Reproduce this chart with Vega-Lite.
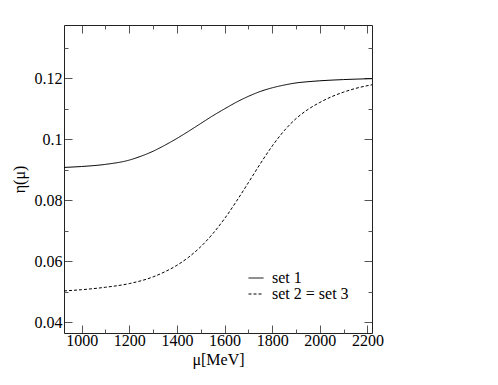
{
  "$schema": "https://vega.github.io/schema/vega-lite/v6.json",
  "width": 308,
  "height": 308,
  "autosize": "none",
  "padding": {"left": 64, "top": 25, "right": 126, "bottom": 52},
  "background": "white",
  "config": {
    "font": "Liberation Serif",
    "view": {"stroke": null},
    "axis": {"labelFont": "Liberation Serif", "titleFont": "Liberation Serif", "labelFontSize": 16, "titleFontSize": 16, "titleFontWeight": "normal", "labelColor": "black", "titleColor": "black", "domainColor": "#222", "tickColor": "#555", "grid": false},
    "legend": {"labelFont": "Liberation Serif", "labelFontSize": 16, "labelColor": "black"}
  },
  "data": {"values": [
    {"mu": 926, "eta": 0.0908, "set": "set 1"},
    {"mu": 1000, "eta": 0.0911, "set": "set 1"},
    {"mu": 1100, "eta": 0.0918, "set": "set 1"},
    {"mu": 1200, "eta": 0.0932, "set": "set 1"},
    {"mu": 1250, "eta": 0.0945, "set": "set 1"},
    {"mu": 1300, "eta": 0.0961, "set": "set 1"},
    {"mu": 1350, "eta": 0.0981, "set": "set 1"},
    {"mu": 1400, "eta": 0.1003, "set": "set 1"},
    {"mu": 1450, "eta": 0.1027, "set": "set 1"},
    {"mu": 1500, "eta": 0.1052, "set": "set 1"},
    {"mu": 1550, "eta": 0.1077, "set": "set 1"},
    {"mu": 1600, "eta": 0.1100, "set": "set 1"},
    {"mu": 1650, "eta": 0.1122, "set": "set 1"},
    {"mu": 1700, "eta": 0.1141, "set": "set 1"},
    {"mu": 1750, "eta": 0.1157, "set": "set 1"},
    {"mu": 1800, "eta": 0.1169, "set": "set 1"},
    {"mu": 1850, "eta": 0.1178, "set": "set 1"},
    {"mu": 1900, "eta": 0.1185, "set": "set 1"},
    {"mu": 1950, "eta": 0.1189, "set": "set 1"},
    {"mu": 2000, "eta": 0.1192, "set": "set 1"},
    {"mu": 2100, "eta": 0.1196, "set": "set 1"},
    {"mu": 2219, "eta": 0.1199, "set": "set 1"},
    {"mu": 926, "eta": 0.0503, "set": "set 2 = set 3"},
    {"mu": 1000, "eta": 0.0507, "set": "set 2 = set 3"},
    {"mu": 1100, "eta": 0.0515, "set": "set 2 = set 3"},
    {"mu": 1200, "eta": 0.0527, "set": "set 2 = set 3"},
    {"mu": 1300, "eta": 0.0549, "set": "set 2 = set 3"},
    {"mu": 1350, "eta": 0.0566, "set": "set 2 = set 3"},
    {"mu": 1400, "eta": 0.0587, "set": "set 2 = set 3"},
    {"mu": 1450, "eta": 0.0614, "set": "set 2 = set 3"},
    {"mu": 1500, "eta": 0.0648, "set": "set 2 = set 3"},
    {"mu": 1550, "eta": 0.0690, "set": "set 2 = set 3"},
    {"mu": 1600, "eta": 0.0740, "set": "set 2 = set 3"},
    {"mu": 1650, "eta": 0.0797, "set": "set 2 = set 3"},
    {"mu": 1700, "eta": 0.0858, "set": "set 2 = set 3"},
    {"mu": 1750, "eta": 0.0920, "set": "set 2 = set 3"},
    {"mu": 1800, "eta": 0.0978, "set": "set 2 = set 3"},
    {"mu": 1850, "eta": 0.1028, "set": "set 2 = set 3"},
    {"mu": 1900, "eta": 0.1068, "set": "set 2 = set 3"},
    {"mu": 1950, "eta": 0.1098, "set": "set 2 = set 3"},
    {"mu": 2000, "eta": 0.1121, "set": "set 2 = set 3"},
    {"mu": 2050, "eta": 0.1140, "set": "set 2 = set 3"},
    {"mu": 2100, "eta": 0.1155, "set": "set 2 = set 3"},
    {"mu": 2150, "eta": 0.1167, "set": "set 2 = set 3"},
    {"mu": 2219, "eta": 0.1179, "set": "set 2 = set 3"}
  ]},
  "resolve": {"axis": {"x": "independent", "y": "independent"}},
  "layer": [
    {
      "mark": {"type": "line", "color": "black", "strokeWidth": 1, "interpolate": "monotone", "clip": true},
      "encoding": {
        "x": {"field": "mu", "type": "quantitative", "scale": {"domain": [926, 2219], "nice": false, "zero": false},
              "axis": {"orient": "bottom", "title": "μ[MeV]", "format": "d", "values": [1000, 1200, 1400, 1600, 1800, 2000, 2200], "tickSize": -8, "labelPadding": 7, "titlePadding": 3, "labelFlush": false}},
        "y": {"field": "eta", "type": "quantitative", "scale": {"domain": [0.0365, 0.1375], "nice": false, "zero": false},
              "axis": {"orient": "left", "title": "η(μ)", "values": [0.04, 0.06, 0.08, 0.1, 0.12], "format": "~g", "tickSize": -8, "labelPadding": 10, "titlePadding": 7, "labelFlush": false}},
        "strokeDash": {"field": "set", "type": "nominal",
          "scale": {"domain": ["set 1", "set 2 = set 3"], "range": [[1, 0], [3, 2]]},
          "legend": {"title": null, "orient": "none", "legendX": 184, "legendY": 245, "symbolType": "stroke", "symbolSize": 225, "symbolStrokeWidth": 1, "symbolStrokeColor": "black", "labelOffset": 8, "rowPadding": 0, "padding": 0}}
      }
    },
    {
      "mark": {"type": "point", "opacity": 0},
      "encoding": {
        "x": {"field": "mu", "type": "quantitative", "axis": {"orient": "bottom", "title": null, "labels": false, "domain": false, "values": [1100, 1300, 1500, 1700, 1900, 2100], "tickSize": -4}},
        "y": {"field": "eta", "type": "quantitative", "axis": {"orient": "left", "title": null, "labels": false, "domain": false, "values": [0.05, 0.07, 0.09, 0.11, 0.13], "tickSize": -4}}
      }
    },
    {
      "mark": {"type": "point", "opacity": 0},
      "encoding": {
        "x": {"field": "mu", "type": "quantitative", "axis": {"orient": "top", "title": null, "labels": false, "values": [1000, 1200, 1400, 1600, 1800, 2000, 2200], "tickSize": -8}},
        "y": {"field": "eta", "type": "quantitative", "axis": {"orient": "right", "title": null, "labels": false, "values": [0.04, 0.06, 0.08, 0.1, 0.12], "tickSize": -8}}
      }
    },
    {
      "mark": {"type": "point", "opacity": 0},
      "encoding": {
        "x": {"field": "mu", "type": "quantitative", "axis": {"orient": "top", "title": null, "labels": false, "domain": false, "values": [1100, 1300, 1500, 1700, 1900, 2100], "tickSize": -4}},
        "y": {"field": "eta", "type": "quantitative", "axis": {"orient": "right", "title": null, "labels": false, "domain": false, "values": [0.05, 0.07, 0.09, 0.11, 0.13], "tickSize": -4}}
      }
    }
  ]
}
